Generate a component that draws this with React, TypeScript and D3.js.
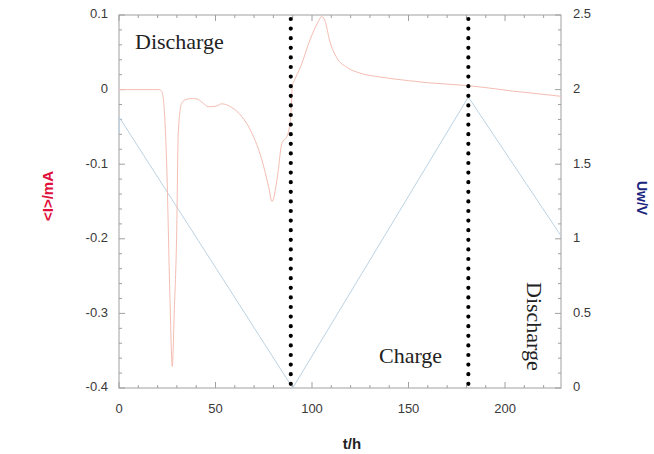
import React from "react";
import * as d3 from "d3";

const tCurrent = [0, 21, 22, 23, 24.7, 26.4, 27.6, 28.6, 29.9, 30.7, 32.5, 35, 38, 40.3, 43, 46.3, 50.6, 53.2, 58.4, 63.6, 68.8, 74, 77.5, 79.3, 81.9, 84.5, 87, 89, 89.8, 91, 94, 99, 103, 105, 107, 109, 113, 118, 125, 135, 150, 161, 172, 182, 195, 204, 215, 222, 229];
const current = [0, 0, -0.002, -0.013, -0.1, -0.28, -0.371, -0.3, -0.19, -0.058, -0.018, -0.013, -0.012, -0.0125, -0.017, -0.023, -0.022, -0.019, -0.024, -0.036, -0.058, -0.094, -0.13, -0.15, -0.12, -0.071, -0.063, -0.035, 0.005, 0.013, 0.03, 0.067, 0.09, 0.098, 0.09, 0.067, 0.042, 0.03, 0.022, 0.017, 0.012, 0.009, 0.007, 0.005, 0.001, -0.002, -0.005, -0.007, -0.009];

const tVoltage = [0, 0.4, 90, 181, 229];
const voltage = [1.7, 1.81, 0.0, 1.95, 1.02];

const switchTimes = [89, 181];
const xTicks = [0, 50, 100, 150, 200];
const yLeftTicks = [0.1, 0, -0.1, -0.2, -0.3, -0.4];
const yRightTicks = [2.5, 2, 1.5, 1, 0.5, 0];

const W = 654, H = 454;
const M = { left: 119, right: 561, top: 15, bottom: 388 };

export default function App() {
  const x = d3.scaleLinear().domain([0, 229]).range([M.left, M.right]);
  const yL = d3.scaleLinear().domain([-0.4, 0.1]).range([M.bottom, M.top]);
  const yR = d3.scaleLinear().domain([0, 2.5]).range([M.bottom, M.top]);

  const lineI = d3.line<number>().x((d, i) => x(tCurrent[i])).y((d) => yL(d)).curve(d3.curveMonotoneX);
  const lineU = d3.line<number>().x((d, i) => x(tVoltage[i])).y((d) => yR(d));

  const xMinor = d3.range(0, 230, 10);
  const yLMinor = d3.range(-0.4, 0.1001, 0.02);
  const yRMinor = d3.range(0, 2.5001, 0.1);
  const axisColor = "#a0a0a0";
  const tickFont = { fontFamily: "Liberation Sans, Arial, sans-serif", fontSize: 13, fill: "#3a3a3a" };

  return (
    <svg width={W} height={H} style={{ position: "absolute", left: 0, top: 0, background: "#fff" }}>
      <rect x={0} y={0} width={W} height={H} fill="#fff" />
      <rect x={M.left} y={M.top} width={M.right - M.left} height={M.bottom - M.top} fill="none" stroke={axisColor} strokeWidth={1} />
      {xMinor.map((v) => {
        const major = v % 50 === 0;
        const len = major ? 6 : 3;
        return (
          <g key={"xt" + v}>
            <line x1={x(v)} x2={x(v)} y1={M.bottom} y2={M.bottom - len} stroke={axisColor} />
            <line x1={x(v)} x2={x(v)} y1={M.top} y2={M.top + len} stroke={axisColor} />
          </g>
        );
      })}
      {yLMinor.map((v, i) => (
        <line key={"yl" + i} x1={M.left} x2={M.left + (i % 5 === 0 ? 6 : 3)} y1={yL(v)} y2={yL(v)} stroke={axisColor} />
      ))}
      {yRMinor.map((v, i) => (
        <line key={"yr" + i} x1={M.right} x2={M.right - (i % 5 === 0 ? 6 : 3)} y1={yR(v)} y2={yR(v)} stroke={axisColor} />
      ))}
      {xTicks.map((v) => (
        <text key={"xl" + v} x={x(v)} y={410} textAnchor="middle" dominantBaseline="middle" {...tickFont}>{v}</text>
      ))}
      {yLeftTicks.map((v) => (
        <text key={"ll" + v} x={108} y={yL(v)} textAnchor="end" dominantBaseline="middle" {...tickFont}>{v}</text>
      ))}
      {yRightTicks.map((v) => (
        <text key={"rl" + v} x={573} y={yR(v)} textAnchor="start" dominantBaseline="middle" {...tickFont}>{v}</text>
      ))}
      <path d={lineU(voltage) || ""} fill="none" stroke="#bcd3e4" strokeWidth={1} />
      <path d={lineI(current) || ""} fill="none" stroke="#f4bdb2" strokeWidth={1} />
      {switchTimes.map((t) => (
        <line key={"sw" + t} x1={x(t)} x2={x(t)} y1={M.top + 4} y2={M.bottom} stroke="#000" strokeWidth={4.2} strokeLinecap="round" strokeDasharray="0 9.6" />
      ))}
      <text x={135} y={49} fontFamily="Liberation Serif, Times New Roman, serif" fontSize={22} fill="#222">Discharge</text>
      <text x={379} y={363} fontFamily="Liberation Serif, Times New Roman, serif" fontSize={22} fill="#222">Charge</text>
      <text transform="translate(527,282) rotate(90)" fontFamily="Liberation Serif, Times New Roman, serif" fontSize={22} fill="#222">Discharge</text>
      <text transform="translate(53,196) rotate(-90)" textAnchor="middle" fontFamily="Liberation Sans, Arial, sans-serif" fontWeight="bold" fontSize={15} fill="#e0103a">{"<I>/mA"}</text>
      <text transform="translate(637,198) rotate(90)" textAnchor="middle" fontFamily="Liberation Sans, Arial, sans-serif" fontWeight="bold" fontSize={14} fill="#1a2580">Uw/V</text>
      <text x={352} y={445} textAnchor="middle" dominantBaseline="middle" fontFamily="Liberation Sans, Arial, sans-serif" fontWeight="bold" fontSize={15} fill="#222">t/h</text>
    </svg>
  );
}
